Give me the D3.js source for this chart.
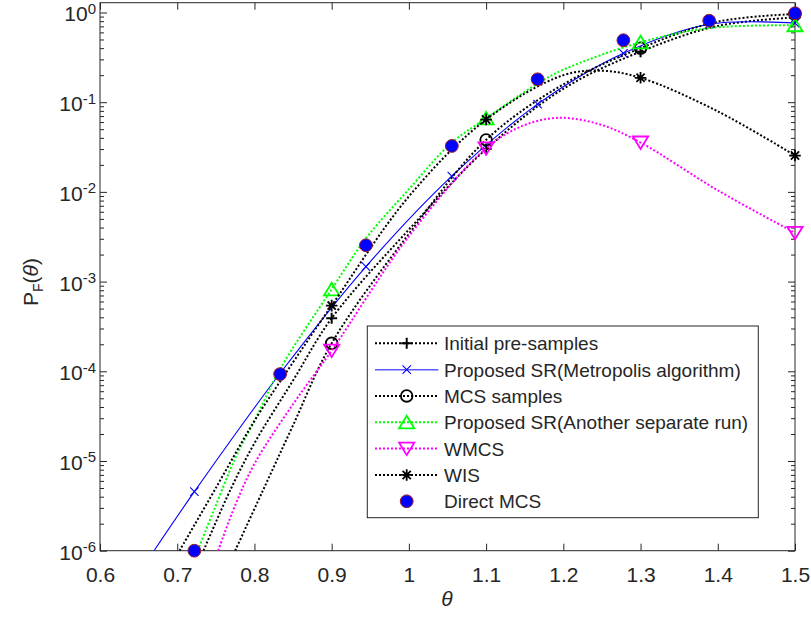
<!DOCTYPE html>
<html>
<head>
<meta charset="utf-8">
<script src="https://cdn.jsdelivr.net/npm/d3@7/dist/d3.min.js"></script>
<style>
body { margin: 0; background: #fff; }
text { font-family: "Liberation Sans", Arial, sans-serif; fill: #262626; }
</style>
</head>
<body>
<svg id="chart" width="811" height="619"></svg>
<script>
// values (theta, P_F)
var initCurveTheta = [0.734, 0.77, 0.8, 0.85, 0.9, 1.0, 1.1, 1.2, 1.3, 1.4, 1.5];
var initCurveP = [1e-6, 5.0e-6, 1.58e-5, 7.9e-5, 3.9e-4, 3.8e-3, 0.030, 0.141, 0.366, 0.708, 0.88];
var initMarkTheta = [0.9, 1.1, 1.3, 1.5];
var initMarkP = [3.9e-4, 0.030, 0.366, 0.88];

var metroCurveTheta = [0.67, 0.7222, 0.8333, 0.9444, 1.0556, 1.1667, 1.2778, 1.3889, 1.5];
var metroCurveP = [1e-6, 4.55e-6, 9.5e-5, 1.47e-3, 0.015, 0.095, 0.35, 0.74, 0.76];
var metroMarkTheta = [0.7222, 0.8333, 0.9444, 1.0556, 1.1667, 1.2778, 1.3889, 1.5];
var metroMarkP = [4.55e-6, 9.5e-5, 1.47e-3, 0.015, 0.095, 0.35, 0.74, 0.76];

var mcsCurveTheta = [0.775, 0.81, 0.85, 0.9, 1.0, 1.1, 1.2, 1.3, 1.4, 1.5];
var mcsCurveP = [1e-6, 4.5e-6, 2.5e-5, 2.05e-4, 3.4e-3, 0.038, 0.158, 0.40, 0.79, 0.96];
var mcsMarkTheta = [0.9, 1.1, 1.3, 1.5];
var mcsMarkP = [2.05e-4, 0.038, 0.40, 0.96];

var runCurveTheta = [0.7265, 0.75, 0.775, 0.8, 0.833, 0.9, 0.944, 1.0, 1.055, 1.1, 1.166, 1.2, 1.3, 1.389, 1.5];
var runCurveP = [1e-6, 3.2e-6, 1.07e-5, 2.8e-5, 1.05e-4, 8.2e-4, 3.0e-3, 0.0107, 0.035, 0.066, 0.16, 0.23, 0.465, 0.67, 0.72];
var runMarkTheta = [0.9, 1.1, 1.3, 1.5];
var runMarkP = [8.2e-4, 0.066, 0.465, 0.72];

var wmcsCurveTheta = [0.753, 0.775, 0.8, 0.85, 0.9, 1.0, 1.1, 1.15, 1.196, 1.25, 1.3, 1.4, 1.5];
var wmcsCurveP = [1e-6, 3.2e-6, 9.3e-6, 4.3e-5, 1.7e-4, 3.2e-3, 0.0306, 0.0557, 0.067, 0.0556, 0.0355, 0.0104, 0.0035];
var wmcsMarkTheta = [0.9, 1.1, 1.3, 1.5];
var wmcsMarkP = [1.7e-4, 0.0306, 0.0355, 0.0035];

var wisCurveTheta = [0.703, 0.75, 0.8, 0.85, 0.9, 1.0, 1.1, 1.2, 1.25, 1.3, 1.4, 1.5];
var wisCurveP = [1e-6, 5.0e-6, 2.8e-5, 1.26e-4, 5.4e-4, 8.9e-3, 0.064, 0.20, 0.224, 0.187, 0.079, 0.0254];
var wisMarkTheta = [0.9, 1.1, 1.3, 1.5];
var wisMarkP = [5.4e-4, 0.064, 0.187, 0.0254];

var directTheta = [0.7222, 0.8333, 0.9444, 1.0556, 1.1667, 1.2778, 1.3889, 1.5];
var directP = [1e-6, 9.3e-5, 2.54e-3, 0.0325, 0.18, 0.49, 0.81, 0.98];

var xTicks = [0.6, 0.7, 0.8, 0.9, 1.0, 1.1, 1.2, 1.3, 1.4, 1.5];
var yExponents = [-6, -5, -4, -3, -2, -1, 0];

var labels = ["Initial pre-samples", "Proposed SR(Metropolis algorithm)", "MCS samples",
    "Proposed SR(Another separate run)", "WMCS", "WIS", "Direct MCS"];

function zip(a, b) { return a.map(function (v, i) { return [v, b[i]]; }); }

var series = [
    { name: labels[0], curve: zip(initCurveTheta, initCurveP), marks: zip(initMarkTheta, initMarkP), color: "#000", dotted: true, marker: "plus" },
    { name: labels[1], curve: zip(metroCurveTheta, metroCurveP), marks: zip(metroMarkTheta, metroMarkP), color: "#0000ff", dotted: false, marker: "cross" },
    { name: labels[2], curve: zip(mcsCurveTheta, mcsCurveP), marks: zip(mcsMarkTheta, mcsMarkP), color: "#000", dotted: true, marker: "circle" },
    { name: labels[3], curve: zip(runCurveTheta, runCurveP), marks: zip(runMarkTheta, runMarkP), color: "#00ff00", dotted: true, marker: "triUp" },
    { name: labels[4], curve: zip(wmcsCurveTheta, wmcsCurveP), marks: zip(wmcsMarkTheta, wmcsMarkP), color: "#ff00ff", dotted: true, marker: "triDown" },
    { name: labels[5], curve: zip(wisCurveTheta, wisCurveP), marks: zip(wisMarkTheta, wisMarkP), color: "#000", dotted: true, marker: "star" },
    { name: labels[6], curve: null, marks: zip(directTheta, directP), color: "#0000ff", dotted: false, marker: "dot" }
];

var plotL = 100, plotR = 795, plotT = 2.7, plotB = 550.7;
var axisColor = "#262626";

var svg = d3.select("#chart");

var x = d3.scaleLinear().domain([0.6, 1.5]).range([plotL, plotR]);
var y = d3.scaleLog().domain([1e-6, 1.285]).range([plotB, plotT]);

svg.append("defs").append("clipPath").attr("id", "plotclip")
    .append("rect").attr("x", plotL).attr("y", plotT)
    .attr("width", plotR - plotL).attr("height", plotB - plotT);

// minor ticks for the log axis
var yMinor = [];
yExponents.forEach(function (e) {
    for (var k = 2; k <= 9; k++) {
        var v = k * Math.pow(10, e);
        if (v < 1.285) yMinor.push(v);
    }
});
var yMajor = yExponents.map(function (e) { return Math.pow(10, e); });

function styleAxis(g) {
    g.select(".domain").remove();
    g.selectAll("line").attr("stroke", axisColor).attr("stroke-width", 1);
}

// bottom / top
svg.append("g").attr("transform", "translate(0," + plotB + ")")
    .call(d3.axisBottom(x).tickValues(xTicks).tickSizeInner(-7).tickSizeOuter(0).tickPadding(16)
        .tickFormat(d3.format("~g")))
    .call(styleAxis)
    .selectAll("text").attr("font-size", 21).attr("fill", axisColor)
    .attr("font-family", "Liberation Sans, Arial, sans-serif");

svg.append("g").attr("transform", "translate(0," + plotT + ")")
    .call(d3.axisTop(x).tickValues(xTicks).tickSizeInner(-7).tickSizeOuter(0).tickFormat(""))
    .call(styleAxis);

// left / right
[[plotL, d3.axisLeft], [plotR, d3.axisRight]].forEach(function (s) {
    svg.append("g").attr("transform", "translate(" + s[0] + ",0)")
        .call(s[1](y).tickValues(yMajor).tickSizeInner(-7).tickSizeOuter(0).tickFormat(""))
        .call(styleAxis);
    svg.append("g").attr("transform", "translate(" + s[0] + ",0)")
        .call(s[1](y).tickValues(yMinor).tickSizeInner(-4).tickSizeOuter(0).tickFormat(""))
        .call(styleAxis);
});

// y tick labels 10^n
var yl = svg.append("g").selectAll("text").data(yExponents).enter().append("text")
    .attr("x", 96).attr("y", function (d) { return y(Math.pow(10, d)) + 9; })
    .attr("text-anchor", "end").attr("font-size", 21);
yl.append("tspan").text("10");
yl.append("tspan").attr("font-size", 15).attr("dy", -7.5).text(function (d) { return d === 0 ? "0" : "-" + Math.abs(d); });

svg.append("rect").attr("x", plotL).attr("y", plotT).attr("width", plotR - plotL).attr("height", plotB - plotT)
    .attr("fill", "none").attr("stroke", axisColor).attr("stroke-width", 1);

// axis titles
var yt = svg.append("text").attr("transform", "translate(38,282) rotate(-90)")
    .attr("text-anchor", "middle").attr("font-size", 21);
yt.append("tspan").text("P");
yt.append("tspan").attr("font-size", 14).attr("dy", 5).text("F");
yt.append("tspan").attr("dy", -5).text("(");
yt.append("tspan").attr("font-style", "italic").text("θ");
yt.append("tspan").text(")");

svg.append("text").attr("x", 447).attr("y", 606).attr("text-anchor", "middle")
    .attr("font-size", 21).attr("font-style", "italic").text("θ");

// markers
function drawMarker(g, type, cx, cy, color) {
    if (type === "plus") {
        g.append("path").attr("d", "M" + (cx - 5.5) + "," + cy + "H" + (cx + 5.5) + "M" + cx + "," + (cy - 5.5) + "V" + (cy + 5.5))
            .attr("stroke", color).attr("stroke-width", 2).attr("fill", "none");
    } else if (type === "cross") {
        var a = 4.2;
        g.append("path").attr("d", "M" + (cx - a) + "," + (cy - a) + "L" + (cx + a) + "," + (cy + a) + "M" + (cx - a) + "," + (cy + a) + "L" + (cx + a) + "," + (cy - a))
            .attr("stroke", color).attr("stroke-width", 1.1).attr("fill", "none");
    } else if (type === "circle") {
        g.append("circle").attr("cx", cx).attr("cy", cy).attr("r", 5.8)
            .attr("stroke", color).attr("stroke-width", 1.8).attr("fill", "none");
    } else if (type === "triUp") {
        g.append("path").attr("d", "M" + cx + "," + (cy - 6.5) + "L" + (cx + 7.6) + "," + (cy + 6) + "L" + (cx - 7.6) + "," + (cy + 6) + "Z")
            .attr("stroke", color).attr("stroke-width", 1.8).attr("fill", "none");
    } else if (type === "triDown") {
        g.append("path").attr("d", "M" + cx + "," + (cy + 6.5) + "L" + (cx + 7.6) + "," + (cy - 6) + "L" + (cx - 7.6) + "," + (cy - 6) + "Z")
            .attr("stroke", color).attr("stroke-width", 1.8).attr("fill", "none");
    } else if (type === "star") {
        var r = 5.8, d = 4.1;
        g.append("path").attr("d", "M" + (cx - r) + "," + cy + "H" + (cx + r) + "M" + cx + "," + (cy - r) + "V" + (cy + r)
            + "M" + (cx - d) + "," + (cy - d) + "L" + (cx + d) + "," + (cy + d) + "M" + (cx - d) + "," + (cy + d) + "L" + (cx + d) + "," + (cy - d))
            .attr("stroke", color).attr("stroke-width", 1.8).attr("fill", "none");
    } else if (type === "dot") {
        g.append("circle").attr("cx", cx).attr("cy", cy).attr("r", 6.4)
            .attr("fill", "#0000ff").attr("stroke", "#a01c28").attr("stroke-width", 1);
    }
}

var line = d3.line()
    .x(function (d) { return x(d[0]); })
    .y(function (d) { return y(d[1]); })
    .curve(d3.curveCatmullRom.alpha(0.5));

var plot = svg.append("g");
series.forEach(function (s) {
    if (s.curve) {
        plot.append("path").datum(s.curve)
            .attr("clip-path", "url(#plotclip)")
            .attr("d", line)
            .attr("fill", "none")
            .attr("stroke", s.color)
            .attr("stroke-width", s.dotted ? 2 : 1.1)
            .attr("stroke-dasharray", s.dotted ? "2,2" : null);
    }
    var mg = plot.append("g");
    s.marks.forEach(function (m) { drawMarker(mg, s.marker, x(m[0]), y(m[1]), s.color); });
});

// legend
var lg = svg.append("g");
lg.append("rect").attr("x", 367.3).attr("y", 326).attr("width", 391).attr("height", 191.7)
    .attr("fill", "#fff").attr("stroke", axisColor).attr("stroke-width", 1);
series.forEach(function (s, i) {
    var ry = 343.3 + i * 26.33;
    if (s.curve) {
        lg.append("line").attr("x1", 375).attr("x2", 438.3).attr("y1", ry).attr("y2", ry)
            .attr("stroke", s.dotted ? s.color : "#5a5aff").attr("stroke-width", s.dotted ? 2 : 1.5)
            .attr("stroke-dasharray", s.dotted ? "2,2" : null);
    }
    drawMarker(lg, s.marker, 406.7, ry, s.color);
    lg.append("text").attr("x", 444).attr("y", ry + 7).attr("font-size", 19).text(s.name);
});
</script>
</body>
</html>
